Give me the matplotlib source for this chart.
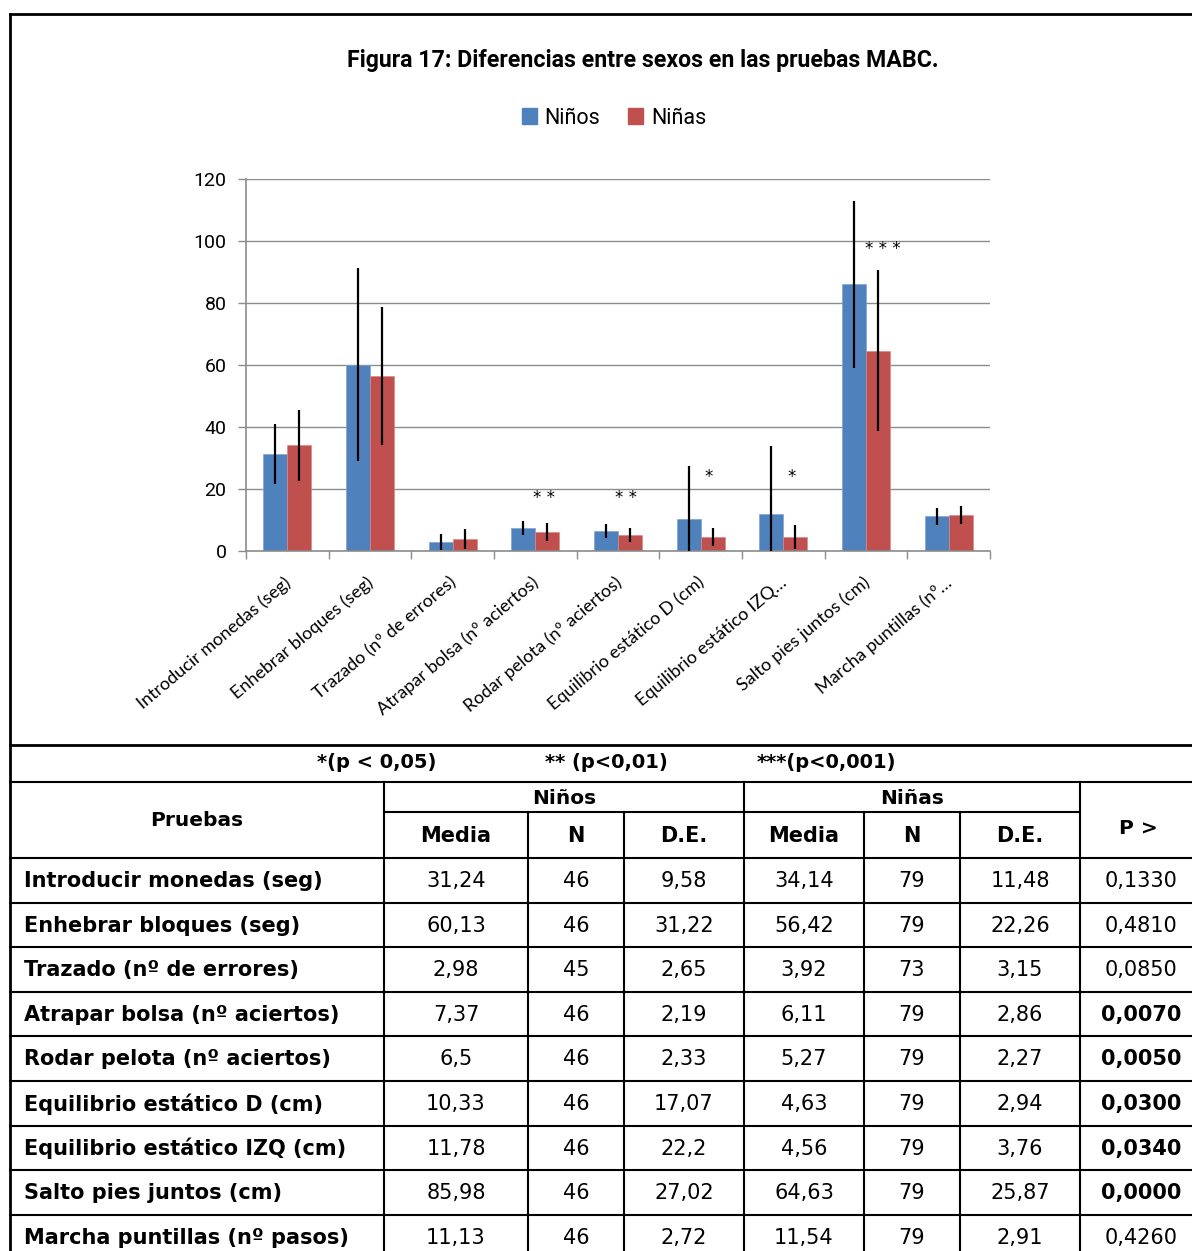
import matplotlib.pyplot as plt
import numpy as np
from matplotlib.patches import Patch

# MABC test results by sex
pruebas = [
    "Introducir monedas (seg)",
    "Enhebrar bloques (seg)",
    "Trazado (nº de errores)",
    "Atrapar bolsa (nº aciertos)",
    "Rodar pelota (nº aciertos)",
    "Equilibrio estático D (cm)",
    "Equilibrio estático IZQ (cm)",
    "Salto pies juntos (cm)",
    "Marcha puntillas (nº pasos)",
]
etiquetas_eje = [
    "Introducir monedas (seg)",
    "Enhebrar bloques (seg)",
    "Trazado (nº de errores)",
    "Atrapar bolsa (nº aciertos)",
    "Rodar pelota (nº aciertos)",
    "Equilibrio estático D (cm)",
    "Equilibrio estático IZQ…",
    "Salto pies juntos (cm)",
    "Marcha puntillas (nº…",
]
media_ninos = [31.24, 60.13, 2.98, 7.37, 6.5, 10.33, 11.78, 85.98, 11.13]
n_ninos = [46, 46, 45, 46, 46, 46, 46, 46, 46]
de_ninos = [9.58, 31.22, 2.65, 2.19, 2.33, 17.07, 22.2, 27.02, 2.72]
media_ninas = [34.14, 56.42, 3.92, 6.11, 5.27, 4.63, 4.56, 64.63, 11.54]
n_ninas = [79, 79, 73, 79, 79, 79, 79, 79, 79]
de_ninas = [11.48, 22.26, 3.15, 2.86, 2.27, 2.94, 3.76, 25.87, 2.91]
p_valor = [0.1330, 0.4810, 0.0850, 0.0070, 0.0050, 0.0300, 0.0340, 0.0000, 0.4260]

# significance marks above the bars and their heights
asteriscos = ["", "", "", "* *", "* *", "*", "*", "* * *", ""]
altura_ast = [0, 0, 0, 17, 17, 24, 24, 97.5, 0]

AZUL = "#4F81BD"
ROJO = "#C0504D"
W, H = 1192, 1251


def num(v):
    return str(v).replace(".", ",")


fig = plt.figure(figsize=(W / 100, H / 100), dpi=100)

# overlay in pixel units for the frame and the table
tab = fig.add_axes([0, 0, 1, 1])
tab.set_xlim(0, W)
tab.set_ylim(H, 0)
tab.axis("off")

ax = fig.add_axes([246 / W, 1 - 551 / H, 744 / W, 372 / H])
ax.set_facecolor("none")

x = np.arange(len(pruebas))
bw = 0.29
ax.bar(x - bw / 2, media_ninos, bw, color=AZUL, edgecolor="#7da3d3", linewidth=0.5, zorder=2)
ax.bar(x + bw / 2, media_ninas, bw, color=ROJO, edgecolor="#d88a88", linewidth=0.5, zorder=2)
ax.errorbar(x - bw / 2, media_ninos, yerr=de_ninos, fmt="none", ecolor="black", elinewidth=1.6, capsize=0, zorder=3)
ax.errorbar(x + bw / 2, media_ninas, yerr=de_ninas, fmt="none", ecolor="black", elinewidth=1.6, capsize=0, zorder=3)

for i, (s, h) in enumerate(zip(asteriscos, altura_ast)):
    if s:
        dx = 0.2 if len(s) > 3 else 0.1
        ax.text(i + dx, h, s, ha="center", va="center", fontsize=12, fontfamily="DejaVu Sans", zorder=4)

ax.set_xlim(-0.5, len(pruebas) - 0.5)
ax.set_ylim(0, 120)
ax.set_yticks(range(0, 121, 20))
ax.grid(axis="y", color="#8c8c8c", linewidth=1.0, zorder=0)
ax.tick_params(axis="y", length=6, width=1, color="#8c8c8c", pad=8, labelsize=14)
for lbl in ax.get_yticklabels():
    lbl.set_fontfamily("Roboto")

ax.set_xticks(np.arange(-0.5, len(pruebas), 1))
ax.set_xticklabels([])
ax.tick_params(axis="x", length=6, width=1, color="#8c8c8c")
for sp in ["top", "right"]:
    ax.spines[sp].set_visible(False)
for sp in ["left", "bottom"]:
    ax.spines[sp].set_color("#8c8c8c")
    ax.spines[sp].set_linewidth(1.2)

for i, et in enumerate(etiquetas_eje):
    ax.annotate(et, xy=(i, 0), xycoords="data", xytext=(1, -21), textcoords="offset points",
                rotation=40, rotation_mode="anchor", ha="right", va="center",
                fontsize=13, fontfamily="Lato", annotation_clip=False)

fig.text(643 / W, 1 - 60 / H, "Figura 17: Diferencias entre sexos en las pruebas MABC.",
         ha="center", va="center", fontsize=16.7, fontweight="bold", fontfamily="Roboto")
fig.legend(handles=[Patch(color=AZUL, label="Niños"), Patch(color=ROJO, label="Niñas")],
           loc="center", bbox_to_anchor=(614 / W, 1 - 118 / H), ncol=2, frameon=False,
           handlelength=0.7, handleheight=0.7, handletextpad=0.35, columnspacing=1.3,
           prop={"family": "Roboto", "size": 15.5})

# frame and table rules
lw_frame = 2.0
lw = 1.5
tab.plot([10, W], [14, 14], color="black", lw=lw_frame)
tab.plot([10, 10], [14, H], color="black", lw=lw_frame)
tab.plot([10, W], [745, 745], color="black", lw=lw_frame)
tab.plot([10, W], [782, 782], color="black", lw=lw)
tab.plot([384, 1080], [812, 812], color="black", lw=lw)
fila_top = 858
paso = 44.6
for k in range(len(pruebas)):
    y = fila_top + k * paso
    tab.plot([10, W], [y, y], color="black", lw=lw)
for xv in [384, 744, 1080]:
    tab.plot([xv, xv], [782, H], color="black", lw=lw)
for xv in [528, 624, 864, 960]:
    tab.plot([xv, xv], [812, H], color="black", lw=lw)

bold_font = "DejaVu Sans"
tab.text(377, 762, "*(p < 0,05)", ha="center", va="center", fontsize=14, fontweight="bold", fontfamily=bold_font)
tab.text(606, 762, "** (p<0,01)", ha="center", va="center", fontsize=14, fontweight="bold", fontfamily=bold_font)
tab.text(826, 762, "***(p<0,001)", ha="center", va="center", fontsize=14, fontweight="bold", fontfamily=bold_font)

tab.text(197, 821, "Pruebas", ha="center", va="center", fontsize=14.5, fontweight="bold", fontfamily=bold_font)
tab.text(564, 798, "Niños", ha="center", va="center", fontsize=14.5, fontweight="bold", fontfamily=bold_font)
tab.text(912, 798, "Niñas", ha="center", va="center", fontsize=14.5, fontweight="bold", fontfamily=bold_font)
tab.text(1138, 828, "P >", ha="center", va="center", fontsize=14.5, fontweight="bold", fontfamily=bold_font)
cols = [456, 576, 684, 804, 912, 1020]
for cx, t in zip(cols, ["Media", "N", "D.E.", "Media", "N", "D.E."]):
    tab.text(cx, 836, t, ha="center", va="center", fontsize=15, fontweight="bold", fontfamily=bold_font)

for k in range(len(pruebas)):
    yc = fila_top + k * paso + 23
    tab.text(24, yc, pruebas[k], ha="left", va="center", fontsize=15, fontweight="bold", fontfamily=bold_font)
    vals = [num(media_ninos[k]), str(n_ninos[k]), num(de_ninos[k]),
            num(media_ninas[k]), str(n_ninas[k]), num(de_ninas[k])]
    for cx, v in zip(cols, vals):
        tab.text(cx, yc, v, ha="center", va="center", fontsize=15, fontfamily="DejaVu Sans")
    tab.text(1141, yc, f"{p_valor[k]:.4f}".replace(".", ","), ha="center", va="center", fontsize=15,
             fontfamily="DejaVu Sans", fontweight="bold" if p_valor[k] < 0.05 else "normal")

fig.savefig("out.png", dpi=100)
